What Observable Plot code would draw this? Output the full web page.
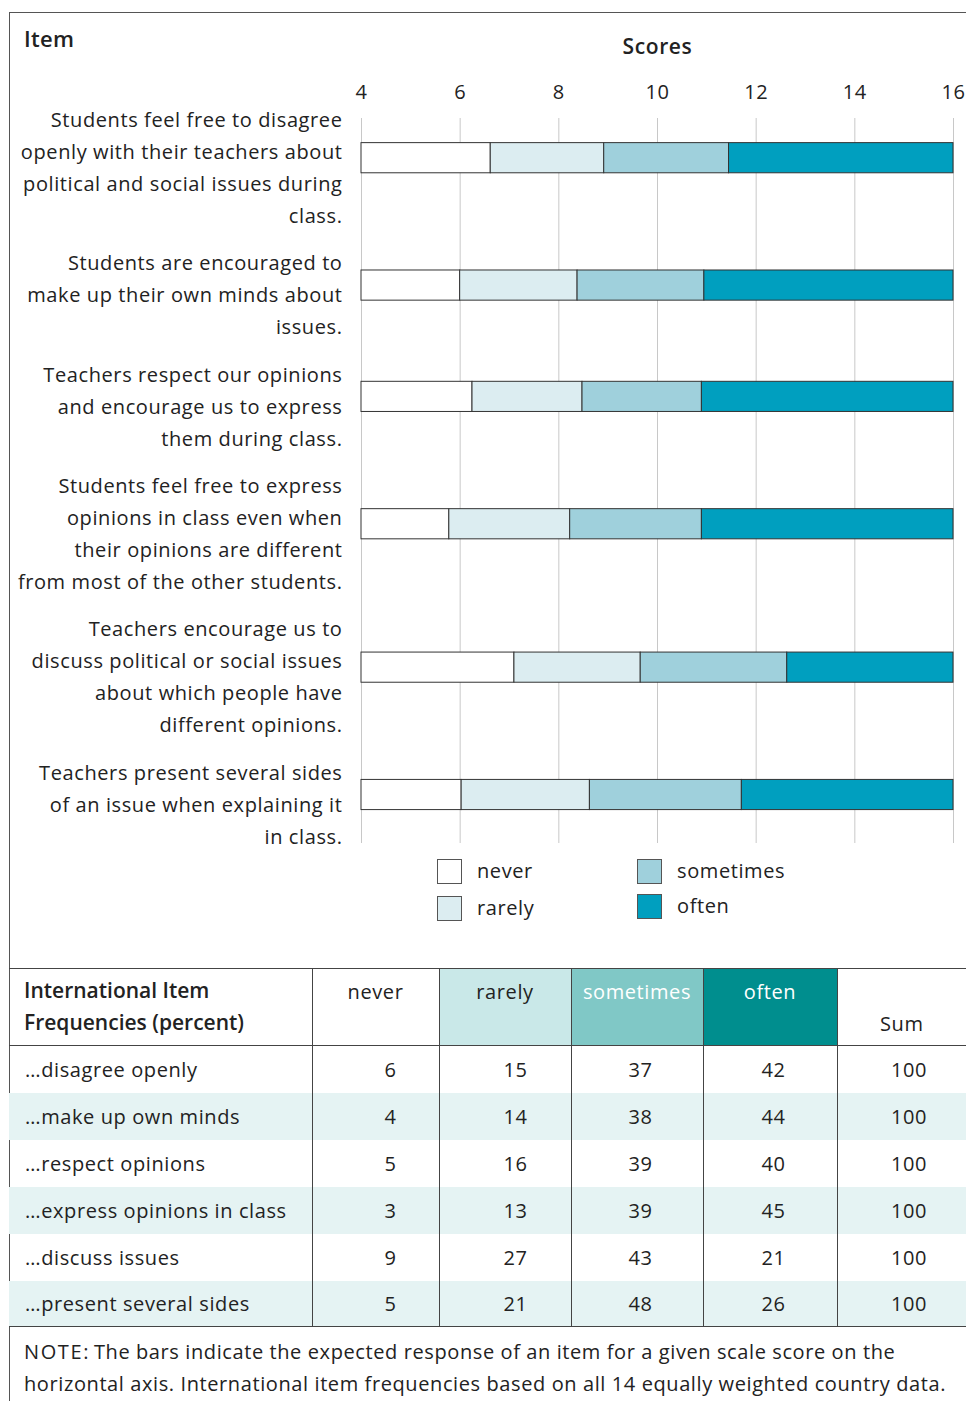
<!DOCTYPE html>
<html>
<head>
<meta charset="utf-8">
<script src="https://cdn.jsdelivr.net/npm/d3@7"></script>
<script src="https://cdn.jsdelivr.net/npm/@observablehq/plot@0.6"></script>
<style>
  html, body { margin: 0; padding: 0; background: #fff; }
  body { font-family: "Open Sans", Lato, sans-serif; color: #222; letter-spacing: 0.6px; }
  #page { position: relative; width: 966px; height: 1401px; overflow: hidden; }
  .abs { position: absolute; }
  #frameTop { left: 9px; top: 12px; width: 957px; height: 0; border-top: 1px solid #555; }
  #frameLeft { left: 9px; top: 12px; width: 0; height: 1389px; border-left: 1px solid #555; }
  #itemTitle { left: 24px; top: 23px; font-size: 22px; font-weight: 600; letter-spacing: 0.3px; }
  #chart { left: 9px; top: 12px; }
  .lg-box { position: absolute; width: 25px; height: 25px; border: 1px solid #555; box-sizing: border-box; }
  .lg-txt { position: absolute; font-size: 20px; line-height: 26px; }
  table#freq { position: absolute; left: 9px; top: 968px; width: 957px; border-collapse: collapse; table-layout: fixed; font-size: 20px; }
  #freq td, #freq th { padding: 0; }
  #freq thead th { height: 77px; border-top: 1px solid #444; border-bottom: 1px solid #444; font-weight: normal; vertical-align: top; padding-top: 9px; box-sizing: border-box; }
  #freq thead th.first { text-align: left; padding-left: 15px; font-weight: 600; font-size: 21px; line-height: 32px; padding-top: 5px; letter-spacing: 0px; }
  #freq td, #freq th { border-left: 1px solid #444; }
  #freq td:first-child, #freq th:first-child { border-left: none; }
  #freq tbody td { height: 47px; text-align: right; vertical-align: middle; }
  #freq tbody td.lab { text-align: left; padding-left: 16px; }
  #freq tbody tr:nth-child(even) td { background: #e5f3f3; }
  #freq tbody tr:last-child td { border-bottom: 1px solid #444; height: 45px; }
  #note { left: 24px; top: 1336px; font-size: 20px; line-height: 32px; }
</style>
</head>
<body>
<div id="page">
  <div id="frameTop" class="abs"></div>
  <div id="frameLeft" class="abs"></div>
  <div id="itemTitle" class="abs">Item</div>
  <div id="chart" class="abs"></div>
  <div id="legend"></div>
  <div id="tableWrap"></div>
  <div id="note" class="abs"><span style="letter-spacing:1.6px">NOTE:</span>&thinsp;The bars indicate the expected response of an item for a given scale score on the<br>horizontal axis. International item frequencies based on all 14 equally weighted country data.</div>
</div>
<script>
// ---------------- data ----------------
const items = [
  "Students feel free to disagree\nopenly with their teachers about\npolitical and social issues during\nclass.",
  "Students are encouraged to\nmake up their own minds about\nissues.",
  "Teachers respect our opinions\nand encourage us to express\nthem during class.",
  "Students feel free to express\nopinions in class even when\ntheir opinions are different\nfrom most of the other students.",
  "Teachers encourage us to\ndiscuss political or social issues\nabout which people have\ndifferent opinions.",
  "Teachers present several sides\nof an issue when explaining it\nin class."
];
const categories = ["never", "rarely", "sometimes", "often"];
const colors = ["#ffffff", "#dcedf1", "#9fd0dc", "#009fbf"];
const scaleMin = 4;
const scaleMax = 16;
const neverTo     = [6.62, 6.00, 6.25, 5.78, 7.10, 6.03];
const rarelyTo    = [8.92, 8.38, 8.48, 8.23, 9.66, 8.63];
const sometimesTo = [11.45, 10.95, 10.90, 10.90, 12.63, 11.71];
const xTicks = [4, 6, 8, 10, 12, 14, 16];

const rowLabels = ["\u2026disagree openly", "\u2026make up own minds", "\u2026respect opinions",
  "\u2026express opinions in class", "\u2026discuss issues", "\u2026present several sides"];
const freqNever     = [6, 4, 5, 3, 9, 5];
const freqRarely    = [15, 14, 16, 13, 27, 21];
const freqSometimes = [37, 38, 39, 39, 43, 48];
const freqOften     = [42, 44, 40, 45, 21, 26];
const freqSum       = [100, 100, 100, 100, 100, 100];

// ---------------- layout of rows (in label-line units) ----------------
const gapLines = 0.47;   // extra space between item blocks
const barShift = 0.2;    // bar sits slightly above the block centre
const barHalf = 0.47;
const nLines = items.map(s => s.split("\n").length);
let start = 0;
const rows = items.map((label, i) => {
  const s = start;
  start += nLines[i] + gapLines;
  const c = s + (nLines[i] - 1) / 2;
  return {label, i, center: c, bar: c - barShift};
});
const yMax = rows[rows.length - 1].center + (nLines[nLines.length - 1] - 1) / 2;

const segs = [];
rows.forEach((r, i) => {
  const b = [scaleMin, neverTo[i], rarelyTo[i], sometimesTo[i], scaleMax];
  categories.forEach((cat, k) => {
    segs.push({cat, x1: b[k], x2: b[k + 1], y1: r.bar - barHalf, y2: r.bar + barHalf});
  });
});

const chart = Plot.plot({
  width: 957,
  height: 840,
  marginLeft: 352,
  marginRight: 13,
  marginTop: 106,
  marginBottom: 9,
  style: {fontFamily: "'Open Sans', Lato, sans-serif", fontSize: "20px", color: "#222", letterSpacing: "0.6px"},
  x: {domain: [scaleMin, scaleMax], axis: null},
  y: {type: "linear", domain: [0, yMax], range: [104, 821], axis: null},
  color: {domain: categories, range: colors},
  marks: [
    Plot.gridX(xTicks, {stroke: "#c8c8c8", strokeOpacity: 1, strokeWidth: 1}),
    Plot.axisX(xTicks, {anchor: "top", tickSize: 0, tickPadding: 20, label: null, fill: "#222", dx: 0}),
    Plot.text(["Scores"], {frameAnchor: "top", lineAnchor: "middle", dy: -71, fontWeight: 600, fontSize: 21}),
    Plot.text(rows, {x: () => scaleMin, y: "center", text: "label", textAnchor: "end", lineAnchor: "middle", dx: -19, lineHeight: 1.6, fill: "#222"}),
    Plot.rect(segs, {x1: "x1", x2: "x2", y1: "y1", y2: "y2", fill: "cat", stroke: "#333", strokeWidth: 1})
  ]
});
document.getElementById("chart").appendChild(chart);

// ---------------- legend ----------------
const legend = document.getElementById("legend");
const legendPos = [[437, 859], [437, 896], [637, 859], [637, 894]];
categories.forEach((c, k) => {
  const [lx, ly] = legendPos[k];
  const box = document.createElement("div");
  box.className = "lg-box";
  box.style.left = lx + "px"; box.style.top = ly + "px"; box.style.background = colors[k];
  legend.appendChild(box);
  const t = document.createElement("div");
  t.className = "lg-txt"; t.textContent = c;
  t.style.left = (lx + 40) + "px"; t.style.top = (ly - 1) + "px";
  legend.appendChild(t);
});

// ---------------- table ----------------
const colW = [303, 127, 132, 132, 134, 129];
const padR = [0, 42, 43, 50, 51, 39];
const headBg = ["#fff", "#fff", "#c9e8e8", "#80c8c6", "#008e8e", "#fff"];
const headFg = ["#222", "#222", "#222", "#fff", "#fff", "#222"];
let html = '<table id="freq"><colgroup>' + colW.map(w => `<col style="width:${w}px">`).join("") + '</colgroup><thead><tr>';
html += '<th class="first">International Item<br>Frequencies (percent)</th>';
categories.forEach((c, k) => {
  html += `<th style="background:${headBg[k + 1]};color:${headFg[k + 1]}">${c}</th>`;
});
html += '<th style="vertical-align:bottom;padding-bottom:8px">Sum</th></tr></thead><tbody>';
rowLabels.forEach((lab, i) => {
  const vals = [freqNever[i], freqRarely[i], freqSometimes[i], freqOften[i], freqSum[i]];
  html += `<tr><td class="lab">${lab}</td>` + vals.map((v, k) => `<td style="padding-right:${padR[k + 1]}px">${v}</td>`).join("") + '</tr>';
});
html += '</tbody></table>';
document.getElementById("tableWrap").innerHTML = html;
</script>
</body>
</html>
